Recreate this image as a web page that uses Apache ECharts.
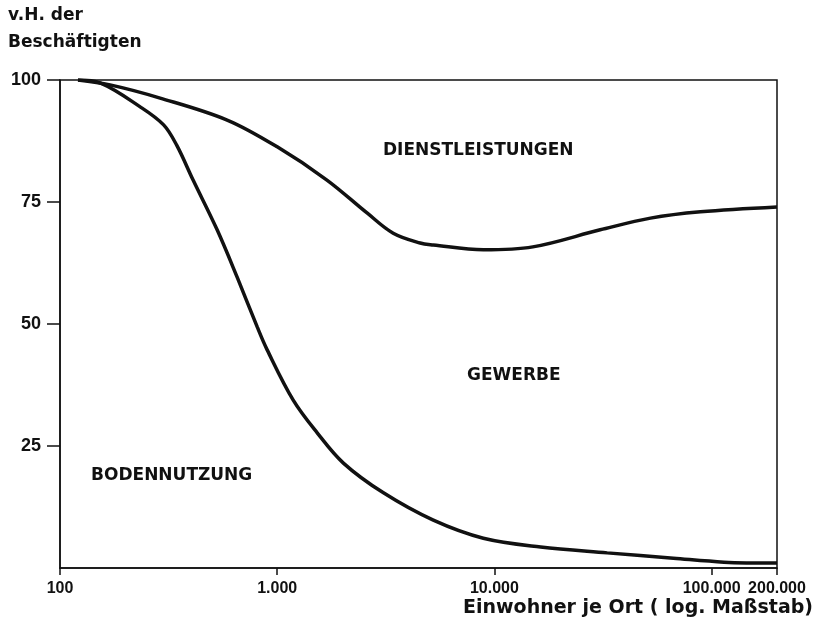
<!DOCTYPE html>
<html>
<head>
<meta charset="utf-8">
<script src="https://cdn.jsdelivr.net/npm/echarts@6/dist/echarts.min.js"></script>
<style>
  html, body { margin: 0; padding: 0; background: #fff; }
  #chart { width: 819px; height: 628px; }
</style>
</head>
<body>
<div id="chart"></div>
<script>
  // Grenze Bodennutzung / Gewerbe  [Einwohner, v.H.]
  const bodenGrenze = [
    [121, 100], [153, 99.4], [234, 94.5], [300, 90.8], [345, 86.6], [410, 79.5], [529, 69.3],
    [654, 59.6], [809, 49.4], [899, 44.7], [1185, 34.4], [1528, 27.7], [2017, 21.5],
    [3084, 15.4], [5232, 9.8], [8890, 6.1], [16320, 4.3], [33060, 3.1], [66700, 2.0],
    [114000, 1.2], [200000, 1.0]
  ];
  // Grenze Gewerbe / Dienstleistungen
  const gewerbeGrenze = [
    [121, 100], [170, 99], [289, 96.3], [588, 91.8], [1000, 86.3], [1694, 79.5],
    [2600, 72.7], [3420, 68.6], [4550, 66.6], [5230, 66.2], [8890, 65.2], [15020, 65.8],
    [30700, 69.3], [52300, 71.7], [88900, 73.0], [200000, 74.0]
  ];
  const xTicks = [100, 1000, 10000, 100000, 200000];
  const xTickLabels = ['100', '1.000', '10.000', '100.000', '200.000'];
  const yTicks = [25, 50, 75, 100];

  const font = '"DejaVu Sans", sans-serif';
  const tickFont = '"Liberation Sans", Arial, sans-serif';
  const chart = echarts.init(document.getElementById('chart'));

  chart.setOption({
    backgroundColor: '#ffffff',
    animation: false,
    grid: {
      left: 60, right: 42, top: 80, bottom: 60,
      outerBoundsMode: 'none', containLabel: false,
      show: true, borderColor: '#111', borderWidth: 1.5, backgroundColor: 'transparent'
    },
    xAxis: {
      type: 'log', logBase: 10, min: 100, max: 200000,
      name: 'Einwohner je Ort ( log. Maßstab)',
      nameLocation: 'end', nameGap: 0,
      nameTextStyle: {
        color: '#111', fontFamily: font, fontWeight: 'bold', fontSize: 19,
        align: 'right', verticalAlign: 'top', padding: [31, -36, 0, 0]
      },
      axisLine: { lineStyle: { color: '#111', width: 1.5 } },
      axisTick: { length: 7, lineStyle: { color: '#111', width: 1.5 }, customValues: xTicks },
      axisLabel: {
        color: '#111', fontFamily: tickFont, fontWeight: 'bold', fontSize: 16, margin: 13,
        customValues: xTicks, interval: 0, showMaxLabel: true, showMinLabel: true, hideOverlap: false,
        formatter: v => xTickLabels[xTicks.indexOf(Math.round(v))] || ''
      },
      splitLine: { show: false },
      minorTick: { show: false }
    },
    yAxis: {
      type: 'value', min: 0, max: 100, interval: 25,
      name: 'v.H. der\nBeschäftigten',
      nameLocation: 'end', nameGap: 0,
      nameTextStyle: {
        color: '#111', fontFamily: font, fontWeight: 'bold', fontSize: 17, lineHeight: 27,
        align: 'left', verticalAlign: 'bottom', padding: [0, 0, 15, -52]
      },
      axisLine: { show: true, lineStyle: { color: '#111', width: 1.5 } },
      axisTick: { show: true, length: 13, lineStyle: { color: '#111', width: 1.5 }, customValues: yTicks },
      axisLabel: {
        color: '#111', fontFamily: tickFont, fontWeight: 'bold', fontSize: 18, margin: 19,
        customValues: yTicks
      },
      splitLine: { show: false }
    },
    series: [
      {
        name: 'Bodennutzung', type: 'line', data: bodenGrenze,
        smooth: 0.35, showSymbol: false,
        lineStyle: { color: '#111', width: 3.5 }
      },
      {
        name: 'Gewerbe', type: 'line', data: gewerbeGrenze,
        smooth: 0.35, showSymbol: false,
        lineStyle: { color: '#111', width: 3.5 }
      }
    ],
    graphic: [
      { type: 'text', left: 383, top: 142, style: { text: 'DIENSTLEISTUNGEN', fill: '#111', font: 'bold 17px ' + font } },
      { type: 'text', left: 467, top: 367, style: { text: 'GEWERBE', fill: '#111', font: 'bold 17px ' + font } },
      { type: 'text', left: 91, top: 467, style: { text: 'BODENNUTZUNG', fill: '#111', font: 'bold 17px ' + font } }
    ]
  });
</script>
</body>
</html>
